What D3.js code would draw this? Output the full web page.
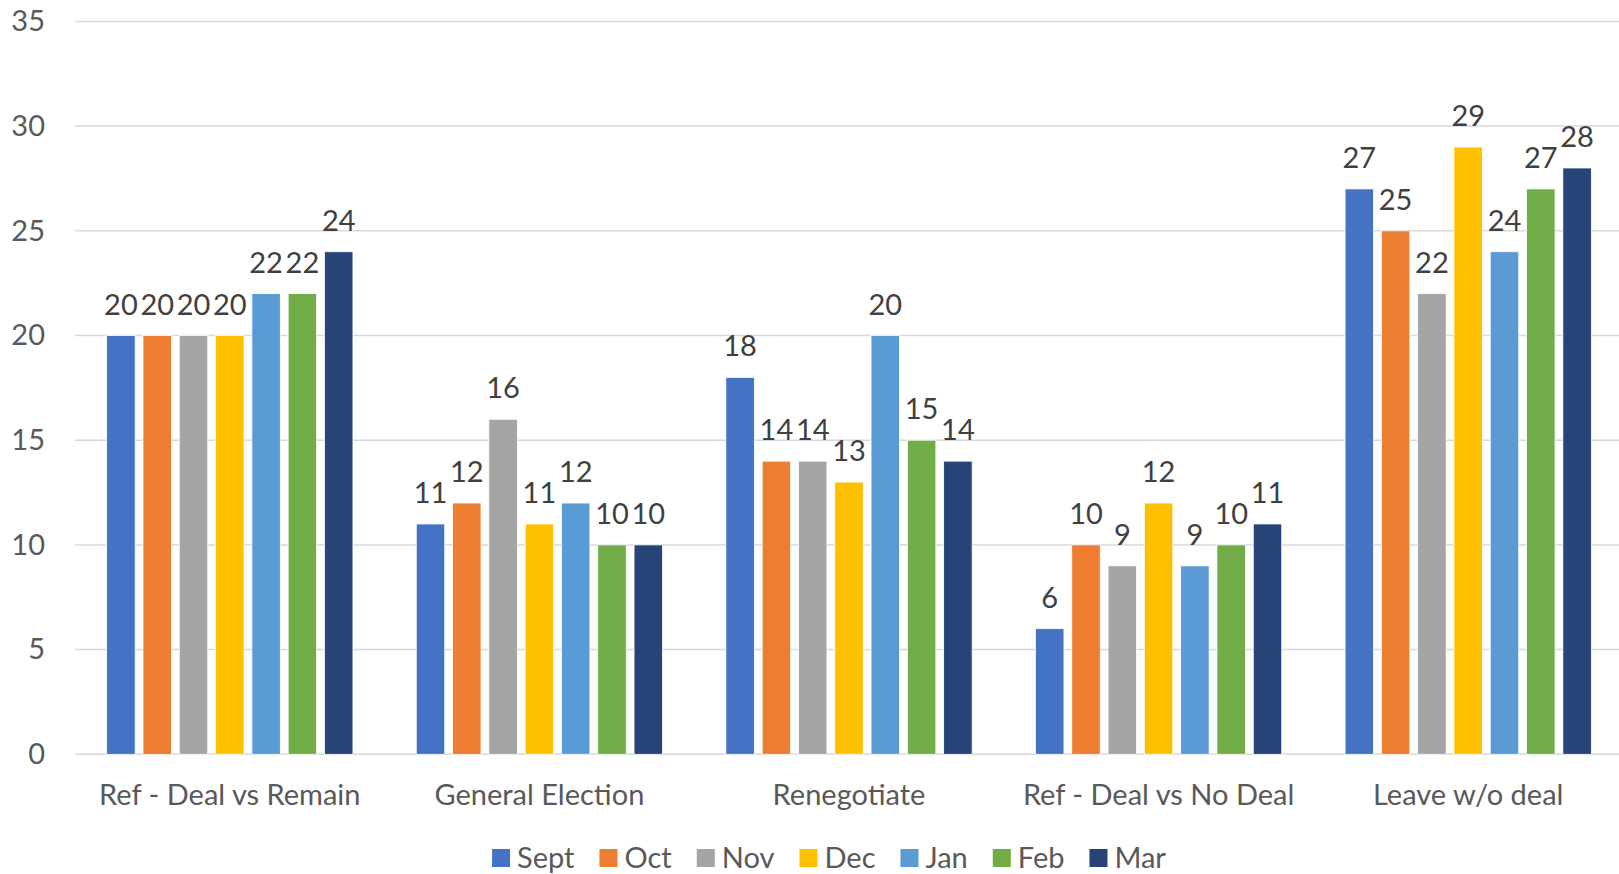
<!DOCTYPE html>
<meta charset="utf-8">
<script src="https://d3js.org/d3.v7.min.js"></script>
<style>
  body { margin: 0; background: #fff; }
  text { font-family: Lato, "Open Sans", sans-serif; }
</style>
<div id="chart"></div>
<script>

// data
var categories = ["Ref - Deal vs Remain", "General Election", "Renegotiate", "Ref - Deal vs No Deal", "Leave w/o deal"];
var months = ["Sept", "Oct", "Nov", "Dec", "Jan", "Feb", "Mar"];
var sept = [20, 11, 18, 6, 27];
var oct  = [20, 12, 14, 10, 25];
var nov  = [20, 16, 14, 9, 22];
var dec  = [20, 11, 13, 12, 29];
var jan  = [22, 12, 20, 9, 24];
var feb  = [22, 10, 15, 10, 27];
var mar  = [24, 10, 14, 11, 28];
var yTicks = [0, 5, 10, 15, 20, 25, 30, 35];

var seriesValues = [sept, oct, nov, dec, jan, feb, mar];
var colors = ["#4472C4", "#ED7D31", "#A5A5A5", "#FFC000", "#5B9BD5", "#70AD47", "#264478"];

var width = 1619, height = 874;

var svg = d3.select("#chart")
  .append("svg")
    .attr("width", width)
    .attr("height", height);

// scales
var x0 = d3.scaleBand()
  .domain(categories)
  .range([75, 1623])
  .paddingInner(0.2045)
  .paddingOuter(0.10225);

var x1 = d3.scaleBand()
  .domain(months)
  .range([0, x0.bandwidth()])
  .paddingInner(0.215);

var y = d3.scaleLinear()
  .domain([0, 35])
  .range([754.3, 21.4]);

var color = d3.scaleOrdinal().domain(months).range(colors);

// gridlines
svg.append("g")
  .selectAll("line")
  .data(yTicks)
  .enter()
  .append("line")
    .attr("x1", 75)
    .attr("x2", 1619)
    .attr("y1", function (d) { return y(d); })
    .attr("y2", function (d) { return y(d); })
    .style("stroke", "#D9D9D9")
    .style("stroke-width", 1.5);

// y axis labels
var yAxis = svg.append("g")
  .attr("transform", "translate(45,0)")
  .call(d3.axisLeft(y).tickValues(yTicks).tickSize(0).tickPadding(0));
yAxis.select(".domain").remove();
yAxis.selectAll("text")
  .style("font-family", "Lato, 'Open Sans', sans-serif")
  .style("font-size", "29px")
  .style("fill", "#595959");

// x axis labels
var xAxis = svg.append("g")
  .attr("transform", "translate(0," + y(0) + ")")
  .call(d3.axisBottom(x0).tickSize(0).tickPadding(0));
xAxis.select(".domain").remove();
xAxis.selectAll("text")
  .attr("dy", null)
  .attr("y", 51)
  .style("font-family", "Lato, 'Open Sans', sans-serif")
  .style("font-size", "29px")
  .style("fill", "#595959");

// bars
var rows = [];
categories.forEach(function (c, i) {
  months.forEach(function (m, j) {
    rows.push({ cat: c, month: m, value: seriesValues[j][i] });
  });
});

var bars = svg.append("g")
  .selectAll("g")
  .data(rows)
  .enter()
  .append("g")
    .attr("transform", function (d) { return "translate(" + (x0(d.cat) + x1(d.month)) + ",0)"; });

bars.append("rect")
  .attr("x", 0)
  .attr("y", function (d) { return y(d.value); })
  .attr("width", x1.bandwidth())
  .attr("height", function (d) { return y(0) - y(d.value); })
  .style("fill", function (d) { return color(d.month); })
  .style("stroke", "#ffffff")
  .style("stroke-width", 0.8);

bars.append("text")
  .attr("x", x1.bandwidth() / 2)
  .attr("y", function (d) { return y(d.value) - 21; })
  .attr("text-anchor", "middle")
  .style("font-size", "29px")
  .style("fill", "#404040")
  .text(function (d) { return d.value; });

// legend
var legend = svg.append("g").attr("transform", "translate(0,858)");
var lx = 0;
var items = legend.selectAll("g")
  .data(months)
  .enter()
  .append("g");
items.append("rect")
  .attr("y", -9)
  .attr("width", 18)
  .attr("height", 18)
  .style("fill", function (d) { return color(d); });
items.append("text")
  .attr("x", 25)
  .attr("dy", "0.35em")
  .style("font-size", "29px")
  .style("fill", "#595959")
  .text(function (d) { return d; });
items.each(function () {
  var g = d3.select(this);
  g.attr("transform", "translate(" + lx + ",0)");
  lx += 25 + g.select("text").node().getComputedTextLength() + 25;
});
var legendWidth = lx - 25;
legend.attr("transform", "translate(" + (829 - legendWidth / 2) + ",858)");

</script>
